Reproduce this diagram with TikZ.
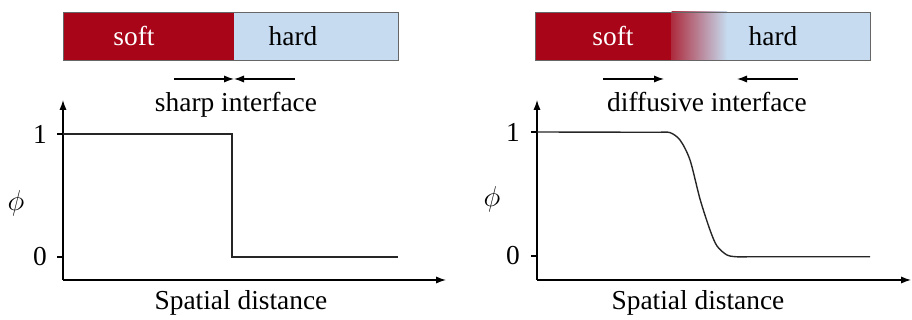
\documentclass[tikz,border=0pt]{standalone}
\usepackage{fontspec}
\setmainfont{Liberation Serif}
\usetikzlibrary{arrows.meta}
\definecolor{softred}{RGB}{168,6,24}
\definecolor{hardblue}{RGB}{198,219,239}
\tikzset{
  arr/.style={-{Latex[length=5pt,width=3.6pt]}, line width=0.6pt},
  curve/.style={line width=0.7pt, black!85},
  barframe/.style={draw=black!60, line width=0.4pt},
  lbl/.style={inner sep=0pt, anchor=base},
  tick/.style={line width=0.6pt}
}
\begin{document}
\begin{tikzpicture}[x=0.5pt,y=-0.5pt,font=\fontsize{13.7}{16}\selectfont]
\useasboundingbox (0,0) rectangle (912,320);
% ---------- left bar ----------
\fill[softred] (63,12) rectangle (234,60);
\fill[hardblue] (234,12) rectangle (398,60);
\draw[barframe] (63,12) rectangle (398,60);
\node[text=white] (soft1) at (134,36) {soft};
\node (hard1) at (293,36) {hard};
\coordinate (la) at (174,79);
\coordinate (lm) at (234,79);
\coordinate (lb) at (295,79);
\draw[arr] (la) -- (lm);
\draw[arr] (lb) -- (lm);
\node[lbl] (sharp) at (236,112) {sharp interface};
% ---------- right bar ----------
\fill[softred] (535,12) rectangle (672,60);
\fill[hardblue] (726,12) rectangle (870,60);
\shade[left color=softred!82!hardblue, right color=hardblue] (671.5,11.5) rectangle (727,60.5);
\draw[barframe] (535,12) rectangle (870,60);
\node[text=white] (soft2) at (613,36) {soft};
\node (hard2) at (773,36) {hard};
\coordinate (ra) at (603,79);
\coordinate (rae) at (664,79);
\coordinate (rb) at (798,79);
\coordinate (rbe) at (737,79);
\draw[arr] (ra) -- (rae);
\draw[arr] (rb) -- (rbe);
\node[lbl] (diff) at (707,112) {diffusive interface};
% ---------- left plot ----------
\coordinate (o1) at (63,280);
\coordinate (y1) at (63,100);
\coordinate (x1) at (446,280);
\draw[arr] (o1) -- (y1);
\draw[arr] (o1) -- (x1);
\coordinate (t1a) at (57,134);
\coordinate (t1b) at (63,134);
\coordinate (t0a) at (57,257);
\coordinate (t0b) at (63,257);
\draw[tick] (t1a) -- (t1b);
\draw[tick] (t0a) -- (t0b);
\node[anchor=east] (one1) at (54,134) {1};
\node[anchor=east] (zero1) at (54,257) {0};
\node (phi1) at (16,203) {$\phi$};
\coordinate (s1) at (63,134);
\coordinate (s2) at (232,134);
\coordinate (s3) at (232,257);
\coordinate (s4) at (398,257);
\draw[curve] (s1) -- (s2) -- (s3) -- (s4);
\node[lbl] (sd1) at (241,310) {Spatial distance};
% ---------- right plot ----------
\coordinate (o2) at (537,280);
\coordinate (y2) at (537,100);
\coordinate (x2) at (911,280);
\draw[arr] (o2) -- (y2);
\draw[arr] (o2) -- (x2);
\coordinate (u1a) at (531,132);
\coordinate (u1b) at (537,132);
\coordinate (u0a) at (531,256);
\coordinate (u0b) at (537,256);
\draw[tick] (u1a) -- (u1b);
\draw[tick] (u0a) -- (u0b);
\node[anchor=east] (one2) at (527,132) {1};
\node[anchor=east] (zero2) at (527,256) {0};
\node (phi2) at (492,199) {$\phi$};
\coordinate (c0) at (537,132);
\coordinate (c1) at (660,132.3);
\coordinate (c3) at (870,256.8);
\draw[curve] (c0) -- (c1) -- plot[smooth, tension=0.5] coordinates {(660,132.3) (670,132.6) (680,140) (690,160) (700,199) (710,230) (717,246) (727,255) (737,256.8) (747,256.8)} -- (c3);
\node[lbl] (sd2) at (698,310) {Spatial distance};
\end{tikzpicture}
\end{document}
